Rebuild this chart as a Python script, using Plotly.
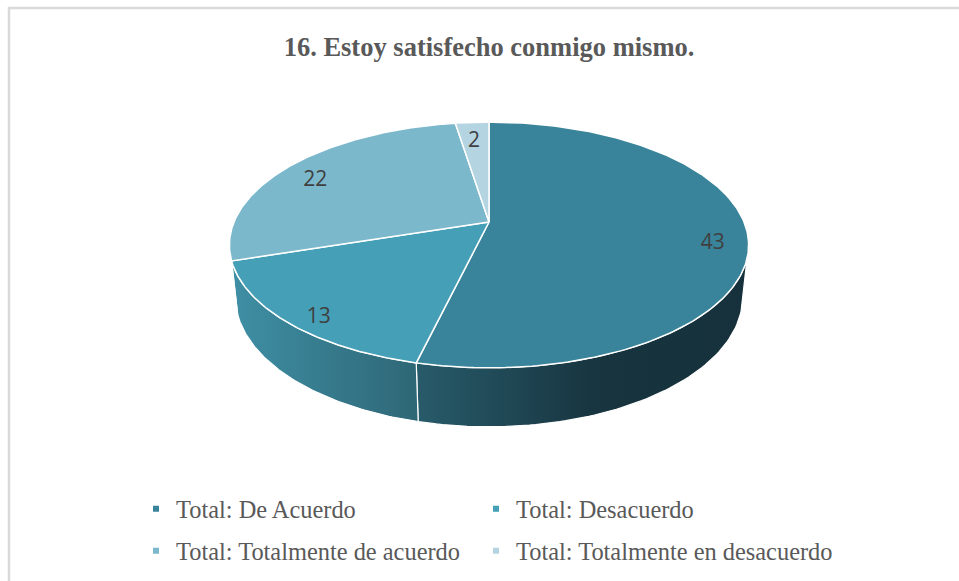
import numpy as np
import plotly.graph_objects as go

# ---- data ----
categories = [
    "Total: De Acuerdo",
    "Total: Desacuerdo",
    "Total: Totalmente de acuerdo",
    "Total: Totalmente en desacuerdo",
]
values = [43, 13, 22, 2]
title_text = "16. Estoy satisfecho conmigo mismo."

# ---- styles ----
SERIF = "Liberation Serif, Times New Roman, Times, DejaVu Serif, serif"
top_colors = ["#39849a", "#459fb6", "#7cb8cc", "#b3d4e0"]
side_scales = [
    [[0, "#285b6a"], [0.55, "#17343f"], [1, "#16313b"]],
    [[0, "#3f8fa5"], [1, "#2e6776"]],
    [[0, "#5f9fb3"], [1, "#5f9fb3"]],
    [[0, "#8db8c6"], [1, "#8db8c6"]],
]
legend_text_x = [176, 516, 176, 516]   # pixel positions of legend entries
legend_row_y = [509, 509, 551, 551]

W, H = 959, 581
CX, CY = 489, 222          # projected pie centre (pixels)
ALPHA = np.radians(27.7)   # tilt
DIST = 4.733               # camera distance (in radii)
FOC = 1207                 # focal length (pixels)
THICK = 0.233              # pie thickness (in radii)
LABEL_R = 0.87
LABEL_Z = -0.04


def project(X, Y, Z):
    X, Y, Z = np.asarray(X, float), np.asarray(Y, float), np.asarray(Z, float)
    yc = Y * np.sin(ALPHA) + Z * np.cos(ALPHA)
    d = DIST + Y * np.cos(ALPHA) - Z * np.sin(ALPHA)
    return CX + FOC * X / d, CY - FOC * yc / d


total = float(sum(values))
cum = np.concatenate([[0], np.cumsum(values)])
starts = 90 - 360 * cum[:-1] / total
ends = 90 - 360 * cum[1:] / total

sil = np.degrees(np.arcsin(np.cos(ALPHA) / DIST))
vis_lo, vis_hi = -180 + sil, -sil

fig = go.Figure()

# sides
for i in range(len(values)):
    lo = max(ends[i], vis_lo)
    hi = min(starts[i], vis_hi)
    if hi <= lo:
        continue
    ang = np.radians(np.linspace(lo, hi, 80))
    xt, yt = project(np.cos(ang), np.sin(ang), np.zeros_like(ang))
    xb, yb = project(np.cos(ang), np.sin(ang), -THICK * np.ones_like(ang))
    xs = np.concatenate([xt, xb[::-1], xt[:1]])
    ys = np.concatenate([yt, yb[::-1], yt[:1]])
    fig.add_trace(go.Scatter(
        x=xs, y=ys, mode="lines", fill="toself",
        fillgradient=dict(type="horizontal", colorscale=side_scales[i]),
        line=dict(color="white", width=1.2),
        hoverinfo="skip", showlegend=False))

# tops
for i in range(len(values)):
    ang = np.radians(np.linspace(starts[i], ends[i], 200))
    xa, ya = project(np.cos(ang), np.sin(ang), np.zeros_like(ang))
    x0, y0 = project(0, 0, 0)
    xs = np.concatenate([[x0], xa, [x0]])
    ys = np.concatenate([[y0], ya, [y0]])
    fig.add_trace(go.Scatter(
        x=xs, y=ys, mode="lines", fill="toself", fillcolor=top_colors[i],
        line=dict(color="white", width=1.5),
        name=categories[i], hoverinfo="name", showlegend=False))

# labels
mid = np.radians((starts + ends) / 2)
lx, ly = project(LABEL_R * np.cos(mid), LABEL_R * np.sin(mid),
                 LABEL_Z * np.ones_like(mid))
fig.add_trace(go.Scatter(
    x=lx, y=ly, mode="text", text=[str(v) for v in values],
    textfont=dict(family="Open Sans", size=21, color="#404040"),
    hoverinfo="skip", showlegend=False))

# legend entries (one small legend per entry, laid out in a 2x2 grid)
leg_common = dict(
    orientation="h", xanchor="left", yanchor="middle",
    font=dict(family=SERIF, size=24.4, color="#595959"),
    bgcolor="rgba(0,0,0,0)", itemclick=False, itemdoubleclick=False,
)
legend_layout = {}
for i, cat in enumerate(categories):
    key = "legend" if i == 0 else "legend%d" % (i + 1)
    fig.add_trace(go.Scatter(
        x=[None], y=[None], mode="markers", name=cat,
        marker=dict(symbol="square", size=6, color=top_colors[i]),
        legend=key))
    legend_layout[key] = dict(x=(legend_text_x[i] - 40) / W,
                              y=1 - legend_row_y[i] / H, **leg_common)

fig.update_layout(
    width=W, height=H,
    margin=dict(l=0, r=0, t=0, b=0),
    paper_bgcolor="white", plot_bgcolor="white",
    font=dict(family=SERIF),
    xaxis=dict(range=[0, W], visible=False, fixedrange=True),
    yaxis=dict(range=[H, 0], visible=False, fixedrange=True),
    title=dict(
        text=title_text, x=489 / W, xanchor="center",
        yref="container", y=1 - 47 / H, yanchor="middle",
        font=dict(family=SERIF, size=26.5, color="#595959", weight="bold")),
    shapes=[dict(type="rect", xref="x", yref="y", x0=9, y0=8, x1=W + 20, y1=H + 20,
                 line=dict(color="#d9d9d9", width=2.5), fillcolor="rgba(0,0,0,0)",
                 layer="below")],
    showlegend=True,
    **legend_layout,
)

fig.write_html("out.html")
